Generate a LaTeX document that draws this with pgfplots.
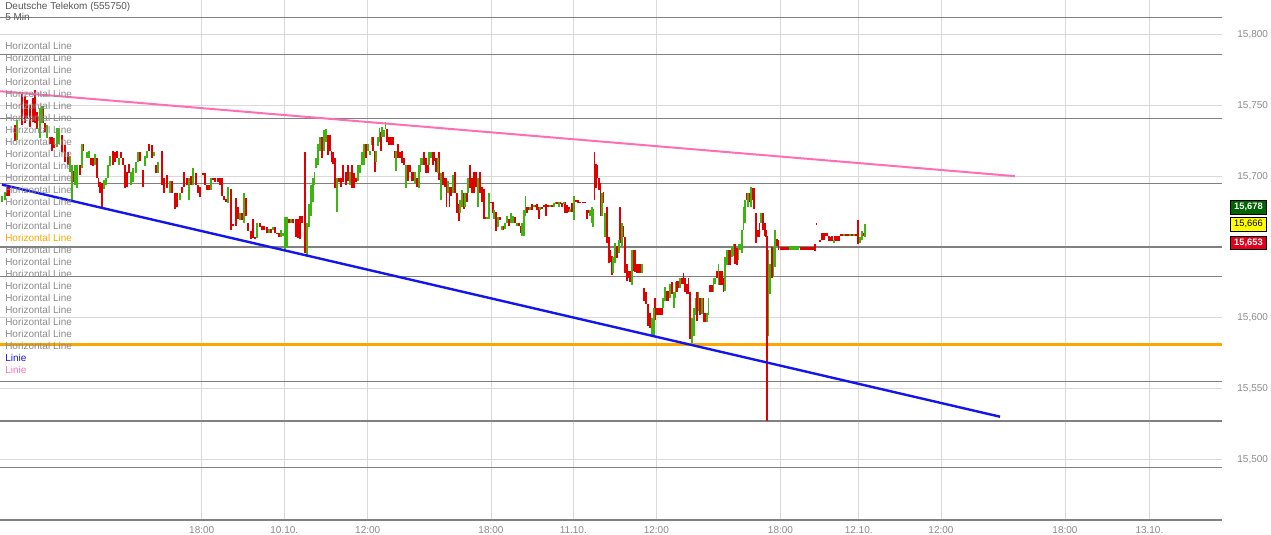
\documentclass[border=0pt]{standalone}
\usepackage{fontspec}
\setmainfont{Liberation Sans}
\usepackage{pgfplots}
\usepackage{pgfplotstable}
\pgfplotsset{compat=1.18}

\definecolor{cred}{HTML}{E00000}
\definecolor{cgreen}{HTML}{3DB510}
\definecolor{hline}{HTML}{808080}
\definecolor{gridc}{HTML}{D9D9D9}
\definecolor{cpink}{HTML}{FF6EB4}
\definecolor{cblue}{HTML}{1414EE}
\definecolor{corange}{HTML}{FFA500}
\definecolor{ctext}{HTML}{8A8A8A}
\definecolor{ctitle}{HTML}{555555}
\definecolor{bgreen}{HTML}{006400}
\definecolor{byellow}{HTML}{FFFF00}
\definecolor{bred}{HTML}{E0001A}

\newcommand\lbl{\fontsize{7.5}{9}\selectfont}

% 5-min candles: x = time position, lo/hi = low/high price
\pgfplotstableread{
x lo hi
7 15.686 15.693
9 15.686 15.692
15 15.725 15.736
22 15.736 15.759
25 15.738 15.757
27 15.741 15.754
30 15.735 15.750
33 15.738 15.755
35 15.738 15.761
37 15.733 15.745
43 15.738 15.750
45 15.731 15.738
50 15.723 15.728
52 15.718 15.728
54 15.720 15.727
62 15.717 15.729
65 15.710 15.722
68 15.708 15.717
73 15.696 15.704
80 15.701 15.708
83 15.718 15.723
91 15.708 15.713
93 15.707 15.713
97 15.699 15.713
98.5 15.692 15.699
100 15.688 15.696
102 15.678 15.695
113 15.708 15.718
115 15.710 15.717
117 15.713 15.718
121 15.713 15.717
123 15.708 15.713
125 15.692 15.708
127 15.692 15.703
129 15.702 15.709
140 15.711 15.717
143 15.692 15.704
149 15.718 15.723
152 15.713 15.722
156 15.702 15.708
162 15.694 15.718
164 15.688 15.699
167 15.692 15.701
172 15.688 15.697
175 15.677 15.688
177 15.678 15.688
182 15.688 15.692
184 15.692 15.703
187 15.694 15.699
191 15.694 15.700
196 15.694 15.702
198 15.688 15.694
200 15.685 15.692
203 15.701 15.702
205 15.694 15.702
207 15.690 15.694
209 15.690 15.694
213 15.697 15.699
215 15.696 15.699
218 15.696 15.699
220 15.694 15.699
222 15.686 15.699
224 15.683 15.686
226 15.682 15.684
231 15.662 15.691
233 15.665 15.666
236 15.665 15.685
238 15.670 15.678
242 15.669 15.674
246 15.672 15.685
248 15.661 15.667
251 15.656 15.661
253 15.656 15.670
255 15.656 15.657
260 15.664 15.667
262 15.662 15.665
264 15.662 15.665
267 15.660 15.664
271 15.660 15.663
275 15.660 15.664
277 15.659 15.660
279 15.657 15.660
289 15.667 15.670
293 15.667 15.670
296 15.657 15.670
298 15.656 15.670
300 15.656 15.672
302 15.667 15.672
305 15.646 15.717
322 15.713 15.728
328 15.715 15.729
330 15.718 15.729
331.5 15.710 15.718
333 15.709 15.717
335 15.692 15.713
339 15.696 15.699
341 15.692 15.699
343 15.696 15.708
346 15.694 15.703
348 15.697 15.708
352 15.692 15.708
354 15.692 15.702
356 15.696 15.699
366 15.713 15.723
373 15.718 15.728
375 15.703 15.718
381 15.718 15.731
387 15.724 15.733
389 15.722 15.728
391 15.722 15.728
393 15.722 15.728
395 15.713 15.718
398 15.713 15.723
400 15.713 15.717
402 15.709 15.718
404 15.708 15.713
405.5 15.703 15.708
408 15.697 15.708
410 15.703 15.708
412 15.697 15.703
414 15.697 15.703
417 15.692 15.699
424 15.708 15.717
426 15.702 15.713
428 15.702 15.708
433 15.708 15.717
434.5 15.711 15.717
436 15.703 15.713
439 15.697 15.717
443 15.694 15.703
445 15.692 15.699
446.5 15.678 15.699
449.5 15.678 15.692
451 15.686 15.692
455 15.688 15.703
457 15.674 15.688
459 15.668 15.680
464 15.677 15.688
467 15.682 15.688
470 15.692 15.708
472 15.688 15.699
474 15.688 15.703
476 15.692 15.703
480 15.688 15.703
482 15.682 15.692
484 15.670 15.691
486 15.670 15.671
491 15.681 15.682
493 15.674 15.682
496 15.661 15.675
500 15.669 15.671
503 15.662 15.665
509 15.665 15.670
515 15.667 15.671
519 15.665 15.667
521 15.660 15.665
527 15.674 15.678
529 15.676 15.678
532 15.676 15.680
535 15.678 15.680
537 15.676 15.680
539 15.670 15.678
542 15.677 15.678
544 15.678 15.680
546 15.672 15.680
548 15.678 15.680
552 15.678 15.680
557 15.680 15.682
560 15.680 15.682
562 15.678 15.681
565 15.674 15.682
567 15.674 15.680
569 15.675 15.678
572 15.675 15.681
576 15.682 15.683
578 15.681 15.683
580 15.681 15.682
583 15.681 15.682
585 15.681 15.682
587 15.670 15.676
589 15.674 15.676
594.5 15.683 15.717
596 15.692 15.709
597.5 15.699 15.708
599 15.690 15.699
600.5 15.672 15.695
603.5 15.681 15.689
607 15.653 15.678
609 15.639 15.657
610.5 15.639 15.648
612 15.630 15.644
617 15.642 15.651
620 15.653 15.678
623.5 15.657 15.665
625 15.632 15.657
627 15.626 15.638
628.5 15.628 15.633
630 15.625 15.633
633.5 15.633 15.648
635 15.632 15.648
637 15.632 15.638
638.5 15.632 15.638
640 15.632 15.638
644 15.612 15.621
646 15.610 15.618
648 15.594 15.610
650 15.593 15.603
655 15.598 15.614
657 15.602 15.607
658.5 15.602 15.607
660 15.602 15.607
662 15.602 15.607
667 15.612 15.619
668.5 15.612 15.619
672 15.617 15.625
677 15.618 15.626
678.5 15.621 15.626
682 15.624 15.628
683.5 15.624 15.632
685 15.618 15.628
687 15.617 15.624
688.5 15.617 15.628
690 15.585 15.618
697 15.598 15.618
700 15.602 15.614
703.5 15.597 15.614
705 15.597 15.603
710 15.618 15.623
712 15.618 15.623
717 15.628 15.633
720 15.623 15.633
722 15.623 15.633
723.5 15.618 15.628
728.5 15.637 15.648
730 15.637 15.648
735 15.638 15.652
737 15.637 15.649
747 15.683 15.688
749.5 15.682 15.688
752.5 15.683 15.692
754 15.677 15.692
756 15.653 15.674
758 15.657 15.662
759.5 15.657 15.667
763 15.662 15.674
765 15.658 15.667
766 15.657 15.662
767 15.527 15.658
772 15.628 15.650
777 15.651 15.656
778.5 15.648 15.655
781 15.648 15.650
783 15.648 15.650
785 15.648 15.650
787 15.648 15.650
789 15.648 15.650
801 15.648 15.650
803 15.648 15.650
805 15.648 15.650
807 15.648 15.650
809 15.648 15.650
811 15.648 15.650
813 15.648 15.650
815 15.647 15.652
816.5 15.666 15.667
820 15.654 15.655
822 15.655 15.660
824 15.655 15.660
825.5 15.658 15.660
827 15.658 15.660
829 15.654 15.658
830.5 15.654 15.657
832 15.654 15.658
835 15.654 15.658
837 15.654 15.658
839 15.654 15.658
840.5 15.658 15.659
842 15.658 15.659
846 15.658 15.659
848 15.658 15.659
852 15.658 15.659
856 15.658 15.659
858 15.652 15.669
863 15.658 15.660
}\redc

\pgfplotstableread{
x lo hi
2 15.682 15.686
5 15.683 15.689
17 15.726 15.740
40 15.727 15.748
42 15.738 15.750
47 15.727 15.736
57 15.721 15.734
59 15.723 15.734
70 15.703 15.714
72 15.682 15.708
75 15.694 15.708
77 15.692 15.708
82 15.706 15.723
87 15.713 15.717
89 15.713 15.718
95 15.708 15.716
104 15.691 15.697
106 15.694 15.699
108 15.699 15.708
110 15.707 15.714
119 15.708 15.713
131 15.694 15.703
133 15.696 15.706
136 15.702 15.710
138 15.710 15.717
145 15.707 15.714
147 15.713 15.718
154 15.714 15.717
158 15.702 15.710
170 15.688 15.697
180 15.683 15.688
189 15.683 15.699
193 15.694 15.706
211 15.690 15.699
228 15.681 15.692
240 15.669 15.674
244 15.667 15.688
257 15.656 15.667
269 15.660 15.663
273 15.662 15.664
281 15.657 15.662
283 15.658 15.660
285 15.648 15.671
287 15.649 15.671
291 15.667 15.670
307 15.643 15.667
309 15.664 15.680
311 15.672 15.694
313 15.682 15.699
314.5 15.694 15.703
316 15.706 15.713
318 15.708 15.723
320 15.718 15.728
324 15.718 15.733
326 15.724 15.733
337 15.675 15.699
350 15.694 15.703
358 15.697 15.708
360 15.702 15.708
362 15.708 15.717
364 15.708 15.723
368 15.718 15.723
370 15.715 15.718
371.5 15.722 15.728
376 15.710 15.718
378 15.721 15.728
379.5 15.724 15.734
382 15.728 15.735
384 15.728 15.733
385.5 15.733 15.738
396 15.704 15.718
406 15.692 15.708
415 15.695 15.703
419 15.692 15.708
420.5 15.703 15.713
422 15.708 15.713
429 15.708 15.717
431 15.713 15.717
438 15.702 15.713
441 15.683 15.702
448 15.688 15.697
453 15.688 15.701
460 15.674 15.683
462 15.678 15.690
465 15.678 15.688
468 15.688 15.699
478 15.678 15.699
487 15.670 15.671
489 15.670 15.688
494 15.670 15.676
498 15.664 15.671
502 15.662 15.665
505 15.663 15.667
507 15.667 15.672
511 15.667 15.674
513 15.667 15.672
517 15.665 15.667
522 15.658 15.667
524 15.658 15.676
525.5 15.672 15.686
530 15.676 15.678
534 15.678 15.680
540 15.676 15.678
550 15.678 15.680
554 15.678 15.681
555.5 15.680 15.682
559 15.678 15.682
564 15.680 15.682
570 15.675 15.677
574 15.669 15.686
590 15.672 15.676
592 15.667 15.678
593.2 15.664 15.677
602 15.672 15.688
605 15.657 15.674
613 15.632 15.643
615 15.639 15.653
619 15.646 15.655
622 15.651 15.667
632 15.623 15.648
642 15.632 15.638
652 15.587 15.600
654 15.587 15.607
663 15.607 15.614
665 15.612 15.622
670 15.614 15.624
674 15.607 15.618
675.5 15.614 15.625
680 15.621 15.628
692 15.582 15.600
694 15.587 15.607
695.5 15.602 15.614
698.5 15.605 15.618
702 15.603 15.614
707 15.597 15.603
708.5 15.602 15.614
713.5 15.618 15.628
715 15.624 15.628
718.5 15.623 15.638
725 15.619 15.643
727 15.637 15.648
732 15.643 15.650
733.5 15.644 15.652
738.5 15.641 15.652
740 15.648 15.652
742 15.646 15.662
743.5 15.662 15.678
745 15.667 15.683
748 15.678 15.688
751 15.678 15.692
761 15.667 15.674
768.5 15.587 15.648
770 15.617 15.638
773.5 15.629 15.650
775 15.636 15.662
790 15.648 15.651
792 15.648 15.651
794 15.648 15.651
796 15.648 15.651
798 15.648 15.651
834 15.653 15.655
844 15.658 15.659
850 15.658 15.659
854 15.658 15.659
860 15.653 15.657
862 15.655 15.661
865 15.657 15.666
}\greenc

\pgfplotsset{
  candle/.style={draw=none, mark=none, forget plot,
    error bars/.cd, y dir=both, y explicit, error mark=none,
    error bar style={draw=#1, line width=1.2pt}},
}

\begin{document}
\begin{tikzpicture}[x=0.75pt, y=0.75pt]
\useasboundingbox (0,-15) rectangle (1271,520);
\begin{axis}[
  at={(0,0)}, anchor=south west,
  scale only axis, width=916.5pt, height=390pt,
  xmin=0, xmax=1222, ymin=15.457, ymax=15.8245,
  axis x line=bottom, axis y line=right,
  x axis line style={-, draw=hline, line width=0.9pt},
  y axis line style={draw=none},
  major tick length=0pt,
  grid=major, major grid style={draw=gridc, line width=0.75pt},
  clip=false,
  xtick={201.7,284.3,367.7,491,573.3,656.3,780.5,858.7,941,1065,1149.4},
  xticklabels={18:00,10.10.,12:00,18:00,11.10.,12:00,18:00,12.10.,12:00,18:00,13.10.},
  ytick={15.5,15.55,15.6,15.7,15.75,15.8},
  yticklabel={\pgfmathprintnumber[fixed,fixed zerofill,precision=3,use comma,assume math mode=true]{\tick}},
  tick label style={font=\lbl, text=ctext},
  yticklabel style={xshift=8pt},
  xticklabel style={yshift=-1pt},
]
% horizontal lines
\pgfplotsinvokeforeach{15.812,15.786,15.741,15.695,15.650,15.629,15.555,15.527,15.494}{
  \addplot[hline, line width=0.9pt, forget plot] coordinates {(0,#1) (1222,#1)};
}
\addplot[corange, line width=1.6pt, forget plot] coordinates {(0,15.581) (1222,15.581)};

% candles
\addplot[candle=cred] table[x=x, y expr={(\thisrow{lo}+\thisrow{hi})/2}, y error expr={(\thisrow{hi}-\thisrow{lo})/2}] {\redc};
\addplot[candle=cgreen] table[x=x, y expr={(\thisrow{lo}+\thisrow{hi})/2}, y error expr={(\thisrow{hi}-\thisrow{lo})/2}] {\greenc};

% trend lines
\addplot[cpink, line width=1.5pt, forget plot] coordinates {(0,15.760) (1015,15.700)};
\addplot[cblue, line width=1.8pt, forget plot] coordinates {(2,15.694) (1000,15.530)};

% price markers
\node[fill=bgreen, draw=black, text=white, font=\fontsize{7}{8}\selectfont\bfseries,
  minimum width=27pt, minimum height=10pt, inner sep=0pt] at (axis cs:1248.5,15.678) {15,678};
\node[fill=byellow, draw=black, text=black, font=\fontsize{7}{8}\selectfont,
  minimum width=27pt, minimum height=10pt, inner sep=0pt] at (axis cs:1248.5,15.666) {15,666};
\node[fill=bred, draw=black, text=white, font=\fontsize{7}{8}\selectfont\bfseries,
  minimum width=27pt, minimum height=10pt, inner sep=0pt] at (axis cs:1248.5,15.653) {15,653};
\end{axis}

% title and object list
\node[anchor=west, inner sep=0pt, font=\lbl, text=ctitle] at (5,513.3) {Deutsche Telekom (555750)};
\node[anchor=west, inner sep=0pt, font=\lbl, text=ctitle] at (5,503.3) {5 Min};
\foreach \k in {0,...,25} {
  \ifnum\k=16
    \node[anchor=west, inner sep=0pt, font=\lbl, text=corange] at (5,{474-12*\k}) {Horizontal Line};
  \else
    \node[anchor=west, inner sep=0pt, font=\lbl, text=ctext] at (5,{474-12*\k}) {Horizontal Line};
  \fi
}
\node[anchor=west, inner sep=0pt, font=\lbl, text=cblue] at (5,162) {Linie};
\node[anchor=west, inner sep=0pt, font=\lbl, text=cpink] at (5,150) {Linie};
\end{tikzpicture}
\end{document}
